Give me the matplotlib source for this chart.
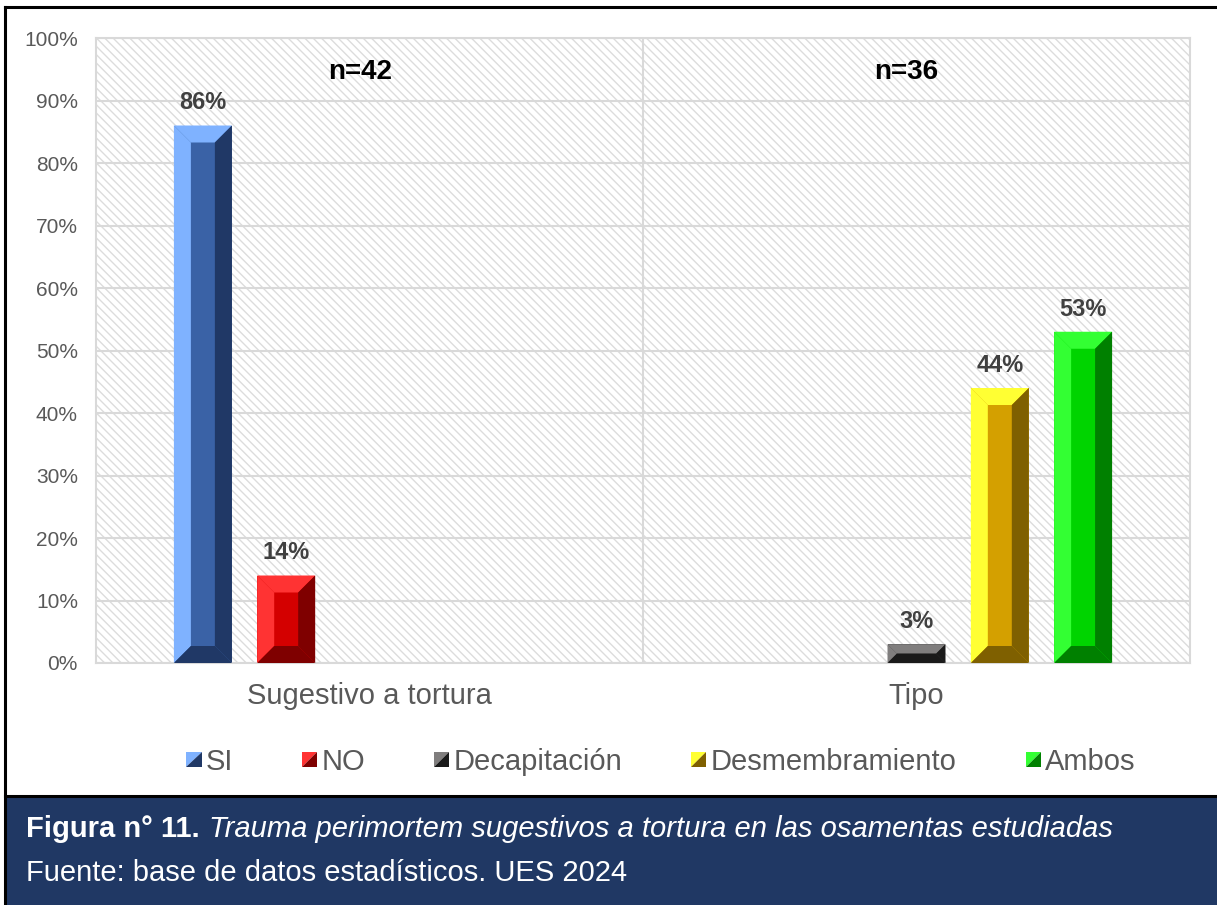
import matplotlib.pyplot as plt
import numpy as np
from matplotlib.patches import Polygon, Rectangle
from matplotlib.legend_handler import HandlerBase
from matplotlib.lines import Line2D

plt.rcParams['font.family'] = ['Liberation Sans', 'DejaVu Sans']
plt.rcParams['hatch.linewidth'] = 1.0

# Datos
categorias = ['Sugestivo a tortura', 'Tipo']
muestras = ['n=42', 'n=36']
series = ['SI', 'NO', 'Decapitación', 'Desmembramiento', 'Ambos']
si = [86, None]
no = [14, None]
decapitacion = [None, 3]
desmembramiento = [None, 44]
ambos = [None, 53]
valores = [si, no, decapitacion, desmembramiento, ambos]

# (claro, medio, oscuro) para el efecto bisel
colores = [('#7FB2FF', '#3A62A6', '#203866'),
           ('#FF3333', '#D40000', '#7F0000'),
           ('#807E7E', '#3F3F3F', '#1A1A1A'),
           ('#FFFF33', '#D4A000', '#7F6000'),
           ('#33FF33', '#00D400', '#008000')]

W, H = 1217, 905
fig = plt.figure(figsize=(W / 100, H / 100), dpi=100)
ax = fig.add_axes([96 / W, 1 - 663 / H, 1094 / W, 625 / H])
ax.set_xlim(-0.5, 1.5)
ax.set_ylim(0, 100)

# fondo con trama diagonal
ax.add_patch(Rectangle((0, 0), 1, 1, transform=ax.transAxes, facecolor='white',
                       edgecolor='#DCDCDC', hatch='\\\\\\\\', lw=0, zorder=0.2))
ax.set_axisbelow(True)
ax.grid(axis='y', color='#D9D9D9', lw=1.5)
ax.axvline(0.5, color='#D9D9D9', lw=1.5, zorder=0.5)
for s in ax.spines.values():
    s.set_color('#D9D9D9')
    s.set_linewidth(1.5)

ax.set_yticks(np.arange(0, 101, 10))
ax.set_yticklabels([f'{v}%' for v in range(0, 101, 10)])
ax.set_xticks(range(len(categorias)))
ax.set_xticklabels(categorias)
ax.tick_params(axis='y', length=0, pad=13, labelsize=15, labelcolor='#595959')
ax.tick_params(axis='x', length=0, pad=14, labelsize=21, labelcolor='#595959')

paso = 0.1523
ancho = 0.106
bisel = 17  # px

a_datos = ax.transData.inverted()


def dibujar_bisel(rect, claro, oscuro):
    x0, y0 = ax.transData.transform((rect.get_x(), rect.get_y()))
    x1, y1 = ax.transData.transform((rect.get_x() + rect.get_width(),
                                     rect.get_y() + rect.get_height()))
    b = min(bisel, (x1 - x0) / 2, (y1 - y0) / 2)
    caras = [
        ([(x0, y1), (x1, y1), (x1 - b, y1 - b), (x0 + b, y1 - b)], claro),
        ([(x0, y0), (x0, y1), (x0 + b, y1 - b), (x0 + b, y0 + b)], claro),
        ([(x1, y1), (x1, y0), (x1 - b, y0 + b), (x1 - b, y1 - b)], oscuro),
        ([(x0, y0), (x1, y0), (x1 - b, y0 + b), (x0 + b, y0 + b)], oscuro),
    ]
    for pts, c in caras:
        ax.add_patch(Polygon(a_datos.transform(pts), closed=True, facecolor=c,
                             edgecolor='none', zorder=3))


x = np.arange(len(categorias))
for i, (vals, (claro, medio, oscuro)) in enumerate(zip(valores, colores)):
    for j, v in enumerate(vals):
        if v is None:
            continue
        xc = x[j] + (i - 2) * paso
        barra = ax.bar(xc, v, width=ancho, color=medio, zorder=2)[0]
        dibujar_bisel(barra, claro, oscuro)
        ax.annotate(f'{v}%', (xc, v), xytext=(0, 8), textcoords='offset points',
                    ha='center', va='bottom', fontsize=17, fontweight='bold',
                    color='#404040', zorder=4)

for j, m in enumerate(muestras):
    ax.text(x[j] - 0.018, 94.6, m, ha='center', va='center', fontsize=20,
            fontweight='bold', color='black')


# leyenda con cuadros partidos en diagonal
class ClaveBisel(HandlerBase):
    def create_artists(self, legend, orig_handle, xdescent, ydescent, width,
                       height, fontsize, trans):
        s = width
        x0 = -xdescent
        y0 = -ydescent + (height - s) / 2
        claro = orig_handle.get_facecolor()
        oscuro = orig_handle.get_edgecolor()
        t1 = Polygon([(x0, y0), (x0, y0 + s), (x0 + s, y0 + s)], closed=True,
                     facecolor=claro, edgecolor='none', transform=trans)
        t2 = Polygon([(x0, y0), (x0 + s, y0), (x0 + s, y0 + s)], closed=True,
                     facecolor=oscuro, edgecolor='none', transform=trans)
        return [t1, t2]


claves = [Rectangle((0, 0), 1, 1, facecolor=c[0], edgecolor=c[2]) for c in colores]
fig.legend(claves, series, handler_map={Rectangle: ClaveBisel()}, loc='center',
           bbox_to_anchor=(661 / W, 1 - 762 / H), ncol=5, frameon=False,
           fontsize=21, labelcolor='#595959', handlelength=0.52,
           handletextpad=0.15, columnspacing=2.36)

# marco y pie de figura
fig.add_artist(Line2D([5 / W, 1], [1 - 7 / H, 1 - 7 / H], color='black', lw=2.2,
                      transform=fig.transFigure))
fig.add_artist(Line2D([5 / W, 5 / W], [0, 1 - 7 / H], color='black', lw=2.2,
                      transform=fig.transFigure))
fig.add_artist(Rectangle((5 / W, 0), 1, 109 / H, transform=fig.transFigure,
                         facecolor='#203864', edgecolor='none'))
fig.add_artist(Line2D([5 / W, 1], [109 / H, 109 / H], color='black', lw=2.2,
                      transform=fig.transFigure))

t1 = fig.text(26 / W, 1 - 829 / H, 'Figura n° 11.', fontsize=21,
              fontweight='bold', color='white', va='center', ha='left')
fig.canvas.draw()
bb = t1.get_window_extent()
fig.text(bb.x1 / W + 9 / W, 1 - 829 / H,
         'Trauma perimortem sugestivos a tortura en las osamentas estudiadas',
         fontsize=21, fontstyle='italic', color='white', va='center', ha='left')
fig.text(26 / W, 1 - 873 / H, 'Fuente: base de datos estadísticos. UES 2024',
         fontsize=21, color='white', va='center', ha='left')

fig.savefig('out.png', dpi=100)
